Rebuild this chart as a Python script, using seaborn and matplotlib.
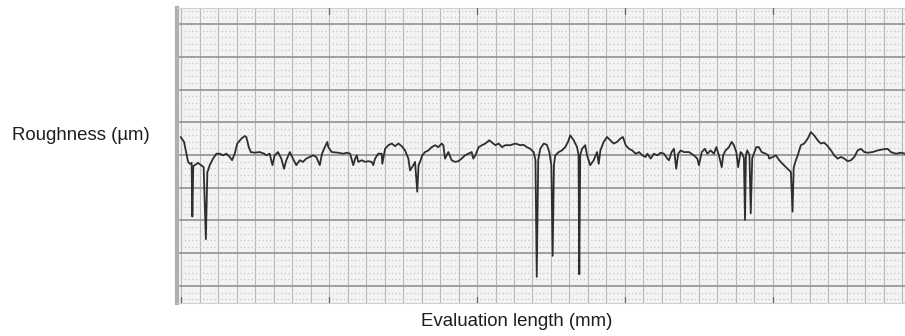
import matplotlib
matplotlib.use("Agg")
import matplotlib.pyplot as plt
import seaborn as sns
import numpy as np
import pandas as pd
from matplotlib.ticker import MultipleLocator

# Profile data: x in chart divisions along evaluation length, y roughness (major divisions)
x_pos = [-0.02, 0.16, 0.29, 0.38, 0.47, 0.57, 0.61, 0.66, 0.74, 0.92, 1.06, 1.22, 1.34, 1.42, 1.46, 1.55,
         1.73, 1.91, 2.09, 2.27, 2.45, 2.63, 2.76, 2.90, 3.04, 3.26, 3.44, 3.53, 3.66, 3.77, 3.98, 4.25,
         4.49, 4.61, 4.79, 4.94, 5.06, 5.24, 5.42, 5.57, 5.69, 5.88, 6.05, 6.23, 6.42, 6.59, 6.77, 6.96,
         7.14, 7.31, 7.50, 7.62, 7.77, 7.91, 7.96, 8.15, 8.50, 8.77, 8.96, 9.14, 9.31, 9.41, 9.50, 9.58,
         9.77, 9.95, 10.12, 10.31, 10.39, 10.49, 10.66, 10.85, 10.88, 11.03, 11.21, 11.39, 11.57, 11.75,
         11.93, 12.11, 12.29, 12.38, 12.56, 12.65, 12.77, 12.84, 12.92, 13.04, 13.19, 13.37, 13.55, 13.73,
         13.91, 14.09, 14.18, 14.27, 14.45, 14.63, 14.81, 14.99, 15.17, 15.35, 15.53, 15.71, 15.80, 15.91,
         16.09, 16.27, 16.45, 16.66, 16.81, 16.99, 17.17, 17.35, 17.53, 17.80, 18.07, 18.34, 18.52, 18.70,
         18.88, 19.06, 19.16, 19.23, 19.31, 19.42, 19.61, 19.78, 19.91, 20.02, 20.09, 20.16, 20.23, 20.42,
         20.59, 20.77, 20.92, 21.04, 21.23, 21.41, 21.49, 21.53, 21.58, 21.68, 21.85, 21.95, 22.12, 22.31,
         22.49, 22.58, 22.67, 22.85, 23.03, 23.21, 23.39, 23.57, 23.75, 23.89, 24.04, 24.22, 24.39, 24.58,
         24.76, 24.94, 25.12, 25.21, 25.39, 25.57, 25.75, 25.93, 26.11, 26.29, 26.38, 26.52, 26.65, 26.77,
         26.88, 27.01, 27.19, 27.46, 27.73, 27.91, 28.00, 28.15, 28.32, 28.45, 28.63, 28.81, 28.94, 29.08,
         29.23, 29.31, 29.44, 29.62, 29.77, 29.89, 30.02, 30.12, 30.25, 30.34, 30.43, 30.49, 30.54, 30.61,
         30.73, 30.80, 30.88, 30.97, 31.10, 31.24, 31.39, 31.61, 31.75, 31.80, 31.99, 32.16, 32.34, 32.52,
         32.70, 32.88, 32.97, 33.06, 33.12, 33.21, 33.34, 33.51, 33.69, 33.88, 34.05, 34.23, 34.42, 34.59,
         34.77, 34.96, 35.14, 35.31, 35.50, 35.68, 35.86, 36.04, 36.22, 36.40, 36.58, 36.76, 36.94, 37.12,
         37.39, 37.66, 37.93, 38.20, 38.38, 38.65, 38.92, 39.14]
roughness = [0.55, 0.40, 0.04, -0.21, -0.27, -0.24, -1.88, -0.34, -0.31, -0.24, -0.30, -0.37, -2.57, -0.52, -0.47, -0.31,
             -0.11, 0.04, 0.04, -0.01, 0.04, -0.06, -0.16, 0.04, 0.35, 0.50, 0.58, 0.55, 0.24, 0.09, 0.07, 0.09,
             0.04, -0.01, 0.04, -0.31, -0.01, 0.09, -0.11, -0.42, -0.16, 0.09, -0.11, -0.31, -0.16, -0.21, -0.11, -0.06,
             -0.01, -0.06, -0.31, 0.04, 0.24, 0.40, 0.24, 0.09, 0.07, 0.04, 0.07, 0.04, -0.31, -0.11, -0.01, -0.21,
             -0.16, -0.21, -0.19, -0.21, -0.31, -0.11, 0.04, 0.04, -0.27, 0.19, 0.30, 0.35, 0.27, 0.35,
             0.27, 0.14, -0.11, -0.47, -0.31, -0.21, -1.12, -0.31, -0.21, -0.01, 0.09, 0.14, 0.24, 0.30,
             0.24, 0.35, 0.30, -0.11, 0.09, -0.16, -0.21, -0.19, -0.11, -0.01, 0.04, 0.09, -0.11, -0.01,
             0.24, 0.30, 0.35, 0.45, 0.38, 0.30, 0.35, 0.24, 0.30, 0.30, 0.35, 0.30, 0.31, 0.24,
             0.19, 0.09, -0.15, -3.72, -0.15, 0.19, 0.35, 0.31, 0.09, -0.31, -3.08, -0.31, -0.01, 0.09,
             0.14, 0.24, 0.40, 0.60, 0.45, 0.24, 0.00, -3.64, 0.00, 0.19, 0.30, -0.01, -0.31, -0.16,
             0.09, -0.27, 0.14, 0.40, 0.55, 0.45, 0.35, 0.40, 0.50, 0.55, 0.30, 0.19, 0.14, 0.04,
             0.09, -0.01, -0.06, 0.04, -0.11, 0.04, -0.01, 0.07, 0.04, -0.11, -0.16, 0.09, 0.19, -0.42,
             0.04, 0.14, 0.09, 0.09, -0.01, -0.11, -0.31, 0.09, 0.19, 0.04, 0.14, 0.04, 0.24, -0.01,
             -0.37, -0.01, 0.14, 0.24, 0.40, 0.30, 0.09, -0.37, 0.09, 0.04, -0.09, -1.98, 0.00, 0.14,
             0.00, -1.78, -0.09, 0.04, 0.24, 0.24, 0.09, 0.04, -0.01, -0.11, -0.06, -0.01, -0.16, -0.27,
             -0.37, -0.47, -0.52, -1.73, -0.40, -0.21, -0.01, 0.30, 0.35, 0.50, 0.70, 0.60, 0.45, 0.35,
             0.38, 0.27, 0.14, -0.01, -0.11, -0.06, -0.11, -0.19, -0.16, -0.06, 0.14, 0.19, 0.09, 0.07,
             0.09, 0.14, 0.17, 0.19, 0.09, 0.04, 0.07, 0.04]

y_label = "Roughness (µm)"
x_label = "Evaluation length (mm)"

sns.set_theme(style="white")
plt.rcParams['font.family'] = ['Liberation Sans', 'DejaVu Sans']
plt.rcParams['lines.scale_dashes'] = False

fig = plt.figure(figsize=(9.05, 3.36), dpi=100)
ax = fig.add_axes([177/905, 33/336, 728/905, 295/336])
ax.set_facecolor('#f3f3f3')

df = pd.DataFrame({"x": x_pos, "y": roughness})
sns.lineplot(data=df, x="x", y="y", ax=ax, estimator=None, sort=False,
             color='#2e2e2e', linewidth=1.3, zorder=5)

ax.set_xlim(-0.22, 39.14)
ax.set_ylim(-4.52, 4.49)

# graph-paper grid
ax.xaxis.set_major_locator(MultipleLocator(1))
ax.yaxis.set_major_locator(MultipleLocator(1))
ax.xaxis.set_minor_locator(MultipleLocator(0.2))
ax.yaxis.set_minor_locator(MultipleLocator(0.2))
ax.grid(which='major', axis='x', color='#b8b8b8', linewidth=0.8, zorder=1)
ax.grid(which='major', axis='y', color='#999999', linewidth=1.3, zorder=1)
ax.grid(which='minor', axis='y', color='#c4c4c4', linewidth=0.9,
        linestyle=(0, (0.9, 1.76)), zorder=0)
ax.set_axisbelow(True)

ax.tick_params(which='both', length=0, labelbottom=False, labelleft=False)
# small marks every 8 divisions at top and bottom
for xm in [0, 8, 16, 24, 32]:
    ax.plot([xm, xm], [-4.52, -4.35], color='#666666', lw=0.9, zorder=6)
for xm in [8, 16, 24, 32]:
    ax.plot([xm, xm], [4.49, 4.32], color='#666666', lw=0.9, zorder=6)

for s in ['top', 'bottom', 'right']:
    ax.spines[s].set_color('#cfcfcf')
    ax.spines[s].set_linewidth(0.8)
ax.spines['right'].set_visible(False)
ax.spines['left'].set_color('#b0b0b0')
ax.spines['left'].set_linewidth(3)

ax.set_xlabel("")
ax.set_ylabel("")
fig.text(81/905, 1 - 135/336, y_label, ha='center', va='center',
         fontsize=13.4, color='#1e1e1e')
fig.text(517/905, 1 - 321/336, x_label, ha='center', va='center',
         fontsize=13.4, color='#1e1e1e')

fig.savefig("out.png", dpi=100, facecolor='white')
